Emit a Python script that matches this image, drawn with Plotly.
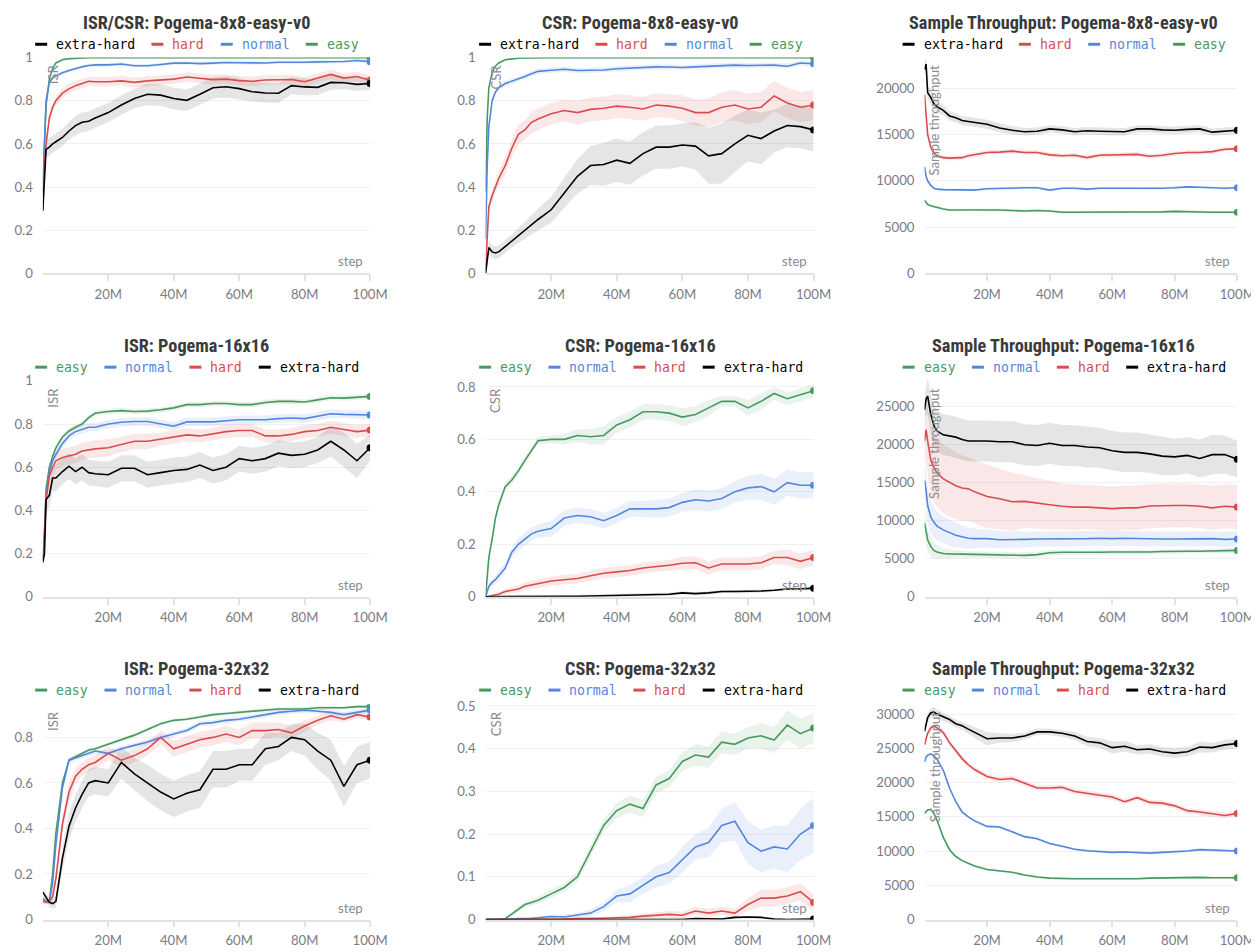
import numpy as np
import plotly.graph_objects as go

# ---------------- data ----------------
STEPS_M = [0, 0.5, 1, 2, 3, 4, 6, 8, 10, 12, 14, 16, 20, 24, 28, 32, 36, 40, 44, 48,
           52, 56, 60, 64, 68, 72, 76, 80, 84, 88, 92, 96, 100]
X_TICK_VALUES_M = [20, 40, 60, 80, 100]
X_TICK_LABELS = ["20M", "40M", "60M", "80M", "100M"]

# Row 1 col 1: ISR/CSR Pogema-8x8-easy-v0 (y = ISR)
R1C1_EASY = [0.42, 0.62, 0.78, 0.9, 0.95, 0.975, 0.99, 0.995, 0.997, 0.998, 0.999, 0.999, 0.999, 0.999, 0.999, 0.999, 0.999,
             0.999, 0.999, 0.999, 0.999, 0.999, 0.999, 0.999, 0.999, 0.999, 0.999, 0.999, 0.999, 0.999, 0.999, 0.999, 0.999]
R1C1_EASY_BAND = 0.003
R1C1_NORMAL = [0.38, 0.6, 0.8, 0.885, 0.905, 0.915, 0.93, 0.94, 0.95, 0.957, 0.963, 0.966, 0.966, 0.97, 0.962, 0.962, 0.968,
               0.974, 0.975, 0.972, 0.974, 0.977, 0.976, 0.975, 0.975, 0.978, 0.977, 0.978, 0.98, 0.98, 0.982, 0.986, 0.981]
R1C1_NORMAL_BAND = 0.008
R1C1_HARD = [0.37, 0.5, 0.6, 0.72, 0.77, 0.8, 0.835, 0.855, 0.87, 0.88, 0.89, 0.888, 0.888, 0.892, 0.885, 0.892, 0.895,
             0.9, 0.91, 0.903, 0.898, 0.9, 0.893, 0.89, 0.896, 0.897, 0.898, 0.888, 0.905, 0.922, 0.905, 0.912, 0.895]
R1C1_HARD_BAND = 0.022
R1C1_XHARD = [0.29, 0.45, 0.575, 0.585, 0.6, 0.61, 0.63, 0.66, 0.685, 0.7, 0.705, 0.72, 0.745, 0.78, 0.81, 0.83, 0.826,
              0.81, 0.802, 0.83, 0.86, 0.865, 0.856, 0.842, 0.836, 0.835, 0.87, 0.864, 0.862, 0.885, 0.883, 0.876, 0.88]
R1C1_XHARD_BAND = [0.03, 0.04, 0.04, 0.04, 0.04, 0.04, 0.04, 0.04, 0.045, 0.045, 0.045, 0.045, 0.045, 0.045, 0.045, 0.05, 0.05,
                   0.05, 0.05, 0.05, 0.05, 0.05, 0.05, 0.045, 0.045, 0.045, 0.04, 0.04, 0.035, 0.035, 0.03, 0.03, 0.03]

# Row 1 col 2: CSR Pogema-8x8-easy-v0
R1C2_EASY = [0.38, 0.72, 0.86, 0.93, 0.96, 0.975, 0.99, 0.995, 0.997, 0.998, 0.999, 0.999, 0.999, 0.999, 0.999, 0.999, 0.999,
             0.999, 0.999, 0.999, 0.999, 0.999, 0.999, 0.999, 0.999, 0.999, 0.999, 0.999, 0.999, 0.999, 0.999, 0.999, 0.999]
R1C2_EASY_BAND = 0.004
R1C2_NORMAL = [0.16, 0.5, 0.68, 0.8, 0.84, 0.86, 0.88, 0.89, 0.9, 0.912, 0.925, 0.936, 0.941, 0.946, 0.94, 0.94, 0.942,
               0.948, 0.951, 0.955, 0.957, 0.956, 0.954, 0.957, 0.96, 0.962, 0.965, 0.963, 0.963, 0.965, 0.96, 0.975, 0.971]
R1C2_NORMAL_BAND = 0.012
R1C2_HARD = [0.02, 0.2, 0.31, 0.36, 0.4, 0.44, 0.5, 0.58, 0.645, 0.665, 0.7, 0.715, 0.74, 0.755, 0.745, 0.76, 0.765,
             0.775, 0.77, 0.762, 0.78, 0.775, 0.765, 0.745, 0.745, 0.77, 0.78, 0.762, 0.77, 0.822, 0.79, 0.77, 0.78]
R1C2_HARD_BAND = [0.02, 0.03, 0.03, 0.03, 0.03, 0.035, 0.04, 0.04, 0.045, 0.045, 0.05, 0.05, 0.05, 0.05, 0.055, 0.055, 0.055,
                  0.055, 0.055, 0.055, 0.055, 0.055, 0.06, 0.06, 0.065, 0.07, 0.07, 0.07, 0.07, 0.07, 0.07, 0.07, 0.07]
R1C2_XHARD = [0.0, 0.05, 0.12, 0.1, 0.095, 0.1, 0.125, 0.15, 0.175, 0.2, 0.225, 0.25, 0.295, 0.37, 0.45, 0.5, 0.505,
              0.525, 0.51, 0.555, 0.585, 0.585, 0.595, 0.59, 0.545, 0.555, 0.6, 0.64, 0.625, 0.66, 0.685, 0.68, 0.665]
R1C2_XHARD_BAND = [0.01, 0.02, 0.03, 0.03, 0.03, 0.03, 0.03, 0.03, 0.035, 0.04, 0.045, 0.05, 0.06, 0.07, 0.08, 0.09, 0.1,
                   0.1, 0.1, 0.1, 0.1, 0.1, 0.1, 0.11, 0.13, 0.14, 0.13, 0.12, 0.12, 0.1, 0.1, 0.1, 0.1]

# Row 1 col 3: Sample Throughput Pogema-8x8-easy-v0
R1C3_EASY = [7900, 7600, 7450, 7300, 7200, 7100, 6950, 6850, 6850, 6850, 6880, 6900, 6850, 6850, 6800, 6750, 6800,
             6750, 6600, 6600, 6650, 6600, 6650, 6650, 6650, 6600, 6650, 6700, 6650, 6650, 6600, 6600, 6600]
R1C3_EASY_BAND = 150
R1C3_NORMAL = [11500, 10500, 10000, 9500, 9200, 9100, 9050, 9050, 9050, 9050, 9000, 9000, 9150, 9200, 9250, 9250, 9250,
               9000, 9200, 9200, 9100, 9200, 9200, 9200, 9200, 9150, 9200, 9250, 9350, 9300, 9250, 9200, 9250]
R1C3_NORMAL_BAND = 150
R1C3_HARD = [19300, 17000, 15000, 13600, 13000, 12700, 12500, 12450, 12450, 12500, 12700, 12800, 13050, 13100, 13200, 13050, 13050,
             12800, 12700, 12750, 12500, 12750, 12800, 12800, 12850, 12650, 12750, 12950, 13050, 13050, 13150, 13400, 13450]
R1C3_HARD_BAND = 250
R1C3_XHARD = [22000, 22600, 19500, 19000, 18300, 18000, 17600, 17000, 16800, 16500, 16400, 16300, 16100, 15700, 15450, 15300, 15350,
              15600, 15500, 15300, 15400, 15350, 15300, 15300, 15600, 15600, 15500, 15450, 15550, 15600, 15250, 15350, 15450]
R1C3_XHARD_BAND = [600, 700, 700, 700, 600, 600, 550, 500, 500, 500, 500, 500, 500, 500, 450, 400, 400,
                   400, 400, 400, 400, 400, 400, 400, 400, 400, 400, 400, 400, 400, 400, 400, 400]

# Row 2 col 1: ISR Pogema-16x16
R2C1_EASY = [0.18, 0.3, 0.5, 0.6, 0.65, 0.69, 0.74, 0.768, 0.785, 0.8, 0.83, 0.85, 0.858, 0.862, 0.858, 0.86, 0.866,
             0.875, 0.89, 0.89, 0.895, 0.895, 0.89, 0.89, 0.9, 0.905, 0.905, 0.902, 0.912, 0.922, 0.92, 0.925, 0.928]
R2C1_EASY_BAND = 0.012
R2C1_NORMAL = [0.17, 0.28, 0.47, 0.58, 0.63, 0.66, 0.71, 0.745, 0.765, 0.775, 0.785, 0.785, 0.8, 0.808, 0.812, 0.812, 0.8,
               0.79, 0.81, 0.81, 0.81, 0.815, 0.82, 0.82, 0.82, 0.825, 0.828, 0.825, 0.838, 0.848, 0.845, 0.845, 0.842]
R2C1_NORMAL_BAND = 0.02
R2C1_HARD = [0.17, 0.27, 0.45, 0.56, 0.6, 0.63, 0.645, 0.651, 0.66, 0.675, 0.68, 0.685, 0.69, 0.705, 0.72, 0.72, 0.73,
             0.74, 0.75, 0.745, 0.755, 0.765, 0.77, 0.77, 0.745, 0.745, 0.752, 0.765, 0.77, 0.785, 0.775, 0.765, 0.772]
R2C1_HARD_BAND = [0.02, 0.03, 0.04, 0.04, 0.04, 0.04, 0.04, 0.04, 0.04, 0.04, 0.04, 0.04, 0.04, 0.035, 0.035, 0.035, 0.03,
                  0.03, 0.03, 0.03, 0.03, 0.03, 0.03, 0.03, 0.03, 0.03, 0.03, 0.03, 0.03, 0.03, 0.03, 0.03, 0.03]
R2C1_XHARD = [0.16, 0.2, 0.45, 0.47, 0.55, 0.55, 0.58, 0.605, 0.58, 0.6, 0.575, 0.57, 0.565, 0.595, 0.595, 0.565, 0.575,
              0.585, 0.59, 0.61, 0.585, 0.6, 0.64, 0.63, 0.64, 0.665, 0.655, 0.66, 0.68, 0.72, 0.68, 0.63, 0.69]
R2C1_XHARD_BAND = [0.02, 0.04, 0.05, 0.06, 0.06, 0.06, 0.06, 0.06, 0.06, 0.06, 0.06, 0.06, 0.06, 0.06, 0.06, 0.06, 0.06,
                   0.06, 0.06, 0.06, 0.06, 0.06, 0.06, 0.06, 0.06, 0.06, 0.06, 0.06, 0.06, 0.07, 0.08, 0.08, 0.06]

# Row 2 col 2: CSR Pogema-16x16
R2C2_EASY = [0.0, 0.08, 0.15, 0.22, 0.3, 0.35, 0.42, 0.445, 0.48, 0.52, 0.56, 0.595, 0.6, 0.6, 0.615, 0.61, 0.615,
             0.655, 0.675, 0.705, 0.705, 0.7, 0.685, 0.695, 0.72, 0.745, 0.745, 0.72, 0.745, 0.775, 0.755, 0.77, 0.785]
R2C2_EASY_BAND = [0.0, 0.01, 0.015, 0.015, 0.015, 0.015, 0.015, 0.015, 0.015, 0.015, 0.015, 0.015, 0.015, 0.02, 0.025, 0.03, 0.035,
                  0.03, 0.03, 0.03, 0.03, 0.03, 0.035, 0.03, 0.03, 0.02, 0.02, 0.03, 0.03, 0.025, 0.025, 0.025, 0.025]
R2C2_NORMAL = [0.0, 0.02, 0.04, 0.055, 0.065, 0.08, 0.11, 0.17, 0.2, 0.22, 0.24, 0.25, 0.26, 0.3, 0.31, 0.305, 0.29,
               0.31, 0.335, 0.335, 0.335, 0.34, 0.36, 0.37, 0.365, 0.375, 0.4, 0.415, 0.42, 0.4, 0.435, 0.425, 0.425]
R2C2_NORMAL_BAND = [0.0, 0.01, 0.01, 0.015, 0.015, 0.02, 0.02, 0.02, 0.025, 0.025, 0.025, 0.025, 0.03, 0.03, 0.03, 0.03, 0.03,
                    0.03, 0.03, 0.03, 0.035, 0.035, 0.035, 0.04, 0.04, 0.04, 0.04, 0.045, 0.05, 0.05, 0.05, 0.05, 0.05]
R2C2_HARD = [0.0, 0.0, 0.002, 0.005, 0.007, 0.01, 0.02, 0.025, 0.03, 0.04, 0.045, 0.05, 0.06, 0.065, 0.07, 0.08, 0.09,
             0.095, 0.1, 0.11, 0.115, 0.12, 0.128, 0.13, 0.11, 0.125, 0.125, 0.125, 0.13, 0.15, 0.15, 0.135, 0.15]
R2C2_HARD_BAND = [0.0, 0.002, 0.003, 0.005, 0.006, 0.008, 0.01, 0.012, 0.014, 0.015, 0.015, 0.016, 0.017, 0.018, 0.018, 0.02, 0.02,
                  0.02, 0.02, 0.02, 0.02, 0.02, 0.025, 0.025, 0.025, 0.025, 0.025, 0.025, 0.025, 0.025, 0.03, 0.03, 0.03]
R2C2_XHARD = [0.0, 0.0, 0.0, 0.0, 0.0, 0.0, 0.0, 0.0, 0.0, 0.0, 0.0, 0.001, 0.001, 0.002, 0.002, 0.003, 0.004,
              0.005, 0.006, 0.007, 0.008, 0.01, 0.015, 0.012, 0.015, 0.02, 0.02, 0.02, 0.022, 0.025, 0.03, 0.03, 0.033]
R2C2_XHARD_BAND = 0.006

# Row 2 col 3: Sample Throughput Pogema-16x16
R2C3_EASY = [9700, 8500, 7500, 6600, 6100, 5900, 5700, 5650, 5650, 5620, 5600, 5580, 5550, 5500, 5480, 5450, 5550,
             5800, 5850, 5820, 5800, 5850, 5900, 5870, 5850, 5900, 5950, 6000, 6000, 6000, 6030, 6050, 6100]
R2C3_EASY_BAND = [1800, 1700, 1500, 1300, 1100, 900, 700, 600, 500, 450, 400, 400, 400, 400, 400, 400, 400,
                  350, 350, 300, 300, 300, 300, 300, 300, 300, 300, 300, 300, 300, 300, 300, 300]
R2C3_NORMAL = [15300, 14000, 12000, 10500, 9800, 9300, 8800, 8400, 8100, 7900, 7700, 7650, 7650, 7500, 7500, 7550, 7600,
               7600, 7600, 7600, 7650, 7700, 7650, 7700, 7650, 7650, 7600, 7600, 7600, 7600, 7650, 7550, 7600]
R2C3_NORMAL_BAND = [2500, 2500, 2300, 2100, 2000, 1900, 1800, 1700, 1600, 1500, 1400, 1300, 1200, 1150, 1100, 1050, 1000,
                    1000, 1000, 1000, 1000, 1000, 1000, 1000, 1000, 1000, 1000, 1000, 1000, 1000, 1000, 1000, 1000]
R2C3_HARD = [20500, 22000, 20500, 18000, 17000, 16300, 15500, 15000, 14600, 14300, 14200, 13800, 13200, 12900, 12500, 12550, 12300,
             12100, 11900, 11800, 11800, 11700, 11600, 11700, 11700, 11950, 12000, 12000, 12000, 11900, 11700, 11900, 11800]
R2C3_HARD_BAND = [3500, 4000, 4500, 4500, 4500, 4500, 4500, 4500, 4400, 4300, 4200, 4200, 4200, 4000, 3800, 3500, 3300,
                  3200, 3000, 3000, 2900, 2900, 2900, 2900, 2900, 2900, 2900, 2900, 2900, 2900, 2900, 2900, 2900]
R2C3_XHARD = [24600, 26000, 26400, 24000, 22500, 21800, 21300, 21200, 21000, 20700, 20500, 20500, 20500, 20400, 20400, 20000, 19900,
              20200, 19900, 19900, 19700, 19600, 19200, 19000, 19000, 18800, 18500, 18400, 18600, 18200, 18700, 18700, 18100]
R2C3_XHARD_BAND = [1500, 2000, 2500, 2700, 2700, 2700, 2700, 2700, 2700, 2700, 2700, 2700, 2700, 2700, 2700, 2700, 2700,
                   2700, 2700, 2700, 2700, 2600, 2600, 2600, 2600, 2500, 2500, 2400, 2400, 2500, 2600, 2500, 2400]

# Row 3 col 1: ISR Pogema-32x32
R3C1_EASY = [0.09, 0.085, 0.08, 0.08, 0.2, 0.38, 0.6, 0.7, 0.715, 0.73, 0.745, 0.75, 0.77, 0.79, 0.81, 0.835, 0.86,
             0.875, 0.88, 0.89, 0.9, 0.905, 0.91, 0.915, 0.92, 0.925, 0.925, 0.925, 0.93, 0.93, 0.93, 0.935, 0.935]
R3C1_EASY_BAND = 0.008
R3C1_NORMAL = [0.09, 0.085, 0.08, 0.08, 0.16, 0.33, 0.58, 0.7, 0.71, 0.72, 0.73, 0.74, 0.73, 0.75, 0.765, 0.78, 0.8,
               0.815, 0.83, 0.86, 0.865, 0.875, 0.88, 0.89, 0.9, 0.91, 0.915, 0.92, 0.915, 0.91, 0.9, 0.91, 0.92]
R3C1_NORMAL_BAND = 0.012
R3C1_HARD = [0.08, 0.078, 0.075, 0.08, 0.1, 0.18, 0.42, 0.56, 0.63, 0.66, 0.68, 0.69, 0.73, 0.7, 0.72, 0.75, 0.8,
             0.75, 0.77, 0.79, 0.8, 0.815, 0.8, 0.83, 0.83, 0.835, 0.82, 0.85, 0.875, 0.895, 0.88, 0.9, 0.89]
R3C1_HARD_BAND = [0.01, 0.01, 0.01, 0.01, 0.02, 0.03, 0.04, 0.04, 0.035, 0.03, 0.03, 0.03, 0.03, 0.03, 0.03, 0.03, 0.03,
                  0.035, 0.035, 0.035, 0.035, 0.035, 0.035, 0.035, 0.035, 0.03, 0.03, 0.025, 0.02, 0.02, 0.015, 0.015, 0.015]
R3C1_XHARD = [0.12, 0.11, 0.1, 0.075, 0.07, 0.08, 0.27, 0.41, 0.49, 0.55, 0.6, 0.61, 0.6, 0.69, 0.64, 0.6, 0.56,
              0.53, 0.555, 0.57, 0.66, 0.66, 0.68, 0.68, 0.75, 0.76, 0.8, 0.79, 0.74, 0.7, 0.585, 0.68, 0.7]
R3C1_XHARD_BAND = [0.02, 0.02, 0.02, 0.02, 0.02, 0.03, 0.05, 0.06, 0.06, 0.06, 0.06, 0.06, 0.06, 0.07, 0.07, 0.08, 0.08,
                   0.08, 0.08, 0.08, 0.08, 0.08, 0.07, 0.07, 0.07, 0.06, 0.06, 0.07, 0.08, 0.09, 0.09, 0.08, 0.08]

# Row 3 col 2: CSR Pogema-32x32
R3C2_EASY = [0, 0, 0, 0, 0, 0, 0.002, 0.013, 0.025, 0.035, 0.04, 0.045, 0.06, 0.075, 0.1, 0.16, 0.22,
             0.255, 0.27, 0.26, 0.315, 0.33, 0.37, 0.385, 0.38, 0.415, 0.41, 0.425, 0.43, 0.42, 0.455, 0.435, 0.448]
R3C2_EASY_BAND = [0, 0, 0, 0, 0, 0, 0.002, 0.005, 0.006, 0.007, 0.008, 0.008, 0.01, 0.01, 0.012, 0.015, 0.015,
                  0.018, 0.02, 0.02, 0.02, 0.02, 0.022, 0.025, 0.025, 0.025, 0.025, 0.025, 0.03, 0.03, 0.035, 0.035, 0.035]
R3C2_NORMAL = [0, 0, 0, 0, 0, 0, 0, 0.001, 0.002, 0.002, 0.003, 0.004, 0.007, 0.006, 0.01, 0.015, 0.03,
               0.055, 0.06, 0.08, 0.1, 0.11, 0.14, 0.17, 0.18, 0.22, 0.23, 0.18, 0.16, 0.17, 0.165, 0.2, 0.22]
R3C2_NORMAL_BAND = [0, 0, 0, 0, 0, 0, 0, 0.001, 0.002, 0.002, 0.003, 0.003, 0.004, 0.005, 0.006, 0.008, 0.01,
                    0.015, 0.02, 0.02, 0.025, 0.025, 0.03, 0.03, 0.035, 0.04, 0.045, 0.05, 0.05, 0.05, 0.055, 0.06, 0.065]
R3C2_HARD = [0, 0, 0, 0, 0, 0, 0, 0, 0, 0, 0, 0, 0.001, 0.001, 0.002, 0.002, 0.003,
             0.004, 0.005, 0.008, 0.01, 0.012, 0.01, 0.02, 0.015, 0.02, 0.015, 0.035, 0.05, 0.05, 0.055, 0.065, 0.04]
R3C2_HARD_BAND = [0, 0, 0, 0, 0, 0, 0, 0, 0, 0, 0, 0, 0.001, 0.001, 0.002, 0.002, 0.003,
                  0.004, 0.005, 0.006, 0.007, 0.008, 0.008, 0.01, 0.01, 0.01, 0.01, 0.015, 0.02, 0.02, 0.02, 0.02, 0.02]
R3C2_XHARD = [0, 0, 0, 0, 0, 0, 0, 0, 0, 0, 0, 0, 0, 0, 0, 0, 0,
              0, 0, 0, 0, 0, 0, 0.002, 0.001, 0.001, 0.005, 0.006, 0.005, 0.001, 0.0, 0.0, 0.001]
R3C2_XHARD_BAND = 0.003

# Row 3 col 3: Sample Throughput Pogema-32x32
R3C3_EASY = [15500, 15800, 16000, 16100, 15500, 14500, 12000, 10200, 9200, 8600, 8200, 7800, 7300, 7100, 6900, 6500, 6200,
             6050, 5950, 5950, 5950, 5950, 5900, 5950, 5950, 6050, 6100, 6050, 6100, 6150, 6100, 6100, 6100]
R3C3_EASY_BAND = 150
R3C3_NORMAL = [23000, 23700, 24000, 24200, 23900, 23400, 21800, 19200, 17200, 15700, 15000, 14400, 13600, 13500, 12800, 12100, 11800,
               11100, 10700, 10250, 10050, 9950, 9800, 9850, 9800, 9700, 9800, 9850, 10000, 10200, 10100, 10000, 10000]
R3C3_NORMAL_BAND = 200
R3C3_HARD = [25500, 26500, 27200, 28000, 28300, 28000, 27300, 25800, 24600, 23500, 22600, 21900, 20900, 20450, 20600, 19900, 19200,
             19200, 19300, 18700, 18400, 18200, 17900, 17200, 17800, 17100, 17000, 16600, 15900, 15700, 15400, 15200, 15500]
R3C3_HARD_BAND = 400
R3C3_XHARD = [27500, 28800, 29500, 30200, 30300, 30000, 29600, 29200, 28600, 28300, 27800, 27300, 26400, 26500, 26500, 26800, 27400,
              27400, 27200, 26800, 26000, 25800, 25100, 25300, 24800, 24900, 24500, 24300, 24500, 25200, 25100, 25500, 25700]
R3C3_XHARD_BAND = [400, 500, 600, 700, 700, 700, 600, 600, 600, 600, 700, 800, 1000, 700, 600, 500, 500,
                   500, 500, 600, 700, 700, 900, 800, 700, 700, 700, 700, 700, 800, 700, 700, 700]

TITLES = [
    ["ISR/CSR: Pogema-8x8-easy-v0", "CSR: Pogema-8x8-easy-v0", "Sample Throughput: Pogema-8x8-easy-v0"],
    ["ISR: Pogema-16x16", "CSR: Pogema-16x16", "Sample Throughput: Pogema-16x16"],
    ["ISR: Pogema-32x32", "CSR: Pogema-32x32", "Sample Throughput: Pogema-32x32"],
]
Y_TITLES = ["ISR", "CSR", "Sample throughput"]
LEGEND_ORDER = [
    ["extra-hard", "hard", "normal", "easy"],
    ["easy", "normal", "hard", "extra-hard"],
    ["easy", "normal", "hard", "extra-hard"],
]
PANEL_DATA = {
    (0, 0): {"easy": (R1C1_EASY, R1C1_EASY_BAND), "normal": (R1C1_NORMAL, R1C1_NORMAL_BAND),
             "hard": (R1C1_HARD, R1C1_HARD_BAND), "extra-hard": (R1C1_XHARD, R1C1_XHARD_BAND)},
    (0, 1): {"easy": (R1C2_EASY, R1C2_EASY_BAND), "normal": (R1C2_NORMAL, R1C2_NORMAL_BAND),
             "hard": (R1C2_HARD, R1C2_HARD_BAND), "extra-hard": (R1C2_XHARD, R1C2_XHARD_BAND)},
    (0, 2): {"easy": (R1C3_EASY, R1C3_EASY_BAND), "normal": (R1C3_NORMAL, R1C3_NORMAL_BAND),
             "hard": (R1C3_HARD, R1C3_HARD_BAND), "extra-hard": (R1C3_XHARD, R1C3_XHARD_BAND)},
    (1, 0): {"easy": (R2C1_EASY, R2C1_EASY_BAND), "normal": (R2C1_NORMAL, R2C1_NORMAL_BAND),
             "hard": (R2C1_HARD, R2C1_HARD_BAND), "extra-hard": (R2C1_XHARD, R2C1_XHARD_BAND)},
    (1, 1): {"easy": (R2C2_EASY, R2C2_EASY_BAND), "normal": (R2C2_NORMAL, R2C2_NORMAL_BAND),
             "hard": (R2C2_HARD, R2C2_HARD_BAND), "extra-hard": (R2C2_XHARD, R2C2_XHARD_BAND)},
    (1, 2): {"easy": (R2C3_EASY, R2C3_EASY_BAND), "normal": (R2C3_NORMAL, R2C3_NORMAL_BAND),
             "hard": (R2C3_HARD, R2C3_HARD_BAND), "extra-hard": (R2C3_XHARD, R2C3_XHARD_BAND)},
    (2, 0): {"easy": (R3C1_EASY, R3C1_EASY_BAND), "normal": (R3C1_NORMAL, R3C1_NORMAL_BAND),
             "hard": (R3C1_HARD, R3C1_HARD_BAND), "extra-hard": (R3C1_XHARD, R3C1_XHARD_BAND)},
    (2, 1): {"easy": (R3C2_EASY, R3C2_EASY_BAND), "normal": (R3C2_NORMAL, R3C2_NORMAL_BAND),
             "hard": (R3C2_HARD, R3C2_HARD_BAND), "extra-hard": (R3C2_XHARD, R3C2_XHARD_BAND)},
    (2, 2): {"easy": (R3C3_EASY, R3C3_EASY_BAND), "normal": (R3C3_NORMAL, R3C3_NORMAL_BAND),
             "hard": (R3C3_HARD, R3C3_HARD_BAND), "extra-hard": (R3C3_XHARD, R3C3_XHARD_BAND)},
}

# ---------------- style / layout ----------------
# Placements below are given in pixels of the final photographed image; they are mapped to
# figure pixels with the page offset (8px body margin) and the photo scale observed earlier.
PHOTO_W, PHOTO_H = 1259, 952
SX, SY = 1259 / 1277, 952 / 968
BODY_MARGIN = 8
TOP_EXTRA = 8
FIG_W = round(PHOTO_W / SX - BODY_MARGIN)
FIG_H = round(PHOTO_H / SY - BODY_MARGIN - TOP_EXTRA)
FS = 1 / SX
COLORS = {"easy": (71, 154, 95), "normal": (83, 135, 221), "hard": (218, 76, 76), "extra-hard": (0, 0, 0)}
BAND_ALPHA = {"easy": 0.12, "normal": 0.12, "hard": 0.13, "extra-hard": 0.10}
COL_PX = [(42.7, 370.0), (485.5, 813.5), (924.5, 1237.3)]
ROW_PX = [(57.3, 273.3), (380.7, 596.7), (704.1, 919.5)]
Y_RANGES = [[(0, 1.0), (0, 1.0), (0, 23300)],
            [(0, 1.0), (0, 0.823), (0, 28400)],
            [(0, 0.946), (0, 0.504), (0, 31450)]]
Y_DTICK = [[0.2, 0.2, 5000], [0.2, 0.2, 5000], [0.2, 0.1, 5000]]
TITLE_CX = [[196, 640, 1063.5], [196, 640, 1063.5], [196, 640, 1063.5]]
TITLE_Y = [22, 345, 668]
LEGEND_Y = [44, 367, 690]
SANS = "Lato, 'Open Sans', sans-serif"
TICK_FONT = dict(family=SANS, size=13 * FS, color="#7b7b85")
TITLE_FONT = dict(family="'Roboto Condensed', Roboto, sans-serif", size=18 * FS, color="#3a3a3a")
MONO = "'DejaVu Sans Mono', 'Liberation Mono', monospace"
CHAR_W = 7.83


def px_x(p):
    return (p / SX - BODY_MARGIN) / FIG_W


def px_y(p):
    return 1 - (p / SY - BODY_MARGIN - TOP_EXTRA) / FIG_H


def rgba(c, a):
    return f"rgba({c[0]},{c[1]},{c[2]},{a})"


fig = go.Figure()
xs = np.array(STEPS_M) * 1e6
annotations = []
shapes = []

for r in range(3):
    for c in range(3):
        k = r * 3 + c + 1
        xa = "x" if k == 1 else f"x{k}"
        ya = "y" if k == 1 else f"y{k}"
        data = PANEL_DATA[(r, c)]
        order = ["easy", "normal", "hard", "extra-hard"]
        for name in order:
            vals, band = data[name]
            vals = np.array(vals, dtype=float)
            band = np.broadcast_to(np.array(band, dtype=float), vals.shape)
            upper = vals + band
            lower = vals - band
            fig.add_trace(go.Scatter(
                x=np.concatenate([xs, xs[::-1]]), y=np.concatenate([upper, lower[::-1]]),
                fill="toself", fillcolor=rgba(COLORS[name], BAND_ALPHA[name]),
                line=dict(width=0), mode="lines", hoverinfo="skip", showlegend=False,
                xaxis=xa, yaxis=ya))
        for name in order:
            vals, _ = data[name]
            fig.add_trace(go.Scatter(
                x=xs, y=vals, mode="lines", line=dict(color=rgba(COLORS[name], 1), width=1.6),
                showlegend=False, name=name, xaxis=xa, yaxis=ya))
            fig.add_trace(go.Scatter(
                x=[xs[-1]], y=[vals[-1]], mode="markers",
                marker=dict(color=rgba(COLORS[name], 1), size=7),
                showlegend=False, hoverinfo="skip", xaxis=xa, yaxis=ya))

        x0, x1 = COL_PX[c]
        y0, y1 = ROW_PX[r]
        xkey = "xaxis" if k == 1 else f"xaxis{k}"
        ykey = "yaxis" if k == 1 else f"yaxis{k}"
        fig.update_layout(**{
            xkey: dict(domain=[px_x(x0), px_x(x1)], anchor=ya, range=[0, 100e6],
                       tickvals=[v * 1e6 for v in X_TICK_VALUES_M], ticktext=X_TICK_LABELS,
                       showgrid=False, zeroline=False, showline=True, linecolor="#e2e2e2", linewidth=1.5,
                       ticks="outside", ticklen=6, tickcolor="#e2e2e2", tickwidth=1.5,
                       tickfont=TICK_FONT, ticklabelstandoff=2, fixedrange=True),
            ykey: dict(domain=[px_y(y1), px_y(y0)], anchor=xa, range=list(Y_RANGES[r][c]),
                       dtick=Y_DTICK[r][c], tick0=0, tickformat="~r" if c < 2 else "d",
                       showgrid=True, gridcolor="#f0f0f0", gridwidth=1, zeroline=False,
                       showline=False, ticks="", tickfont=TICK_FONT, ticklabelstandoff=9,
                       fixedrange=True),
        })
        annotations.append(dict(text=f"<b>{TITLES[r][c]}</b>", x=px_x(TITLE_CX[r][c]), y=px_y(TITLE_Y[r]),
                                xref="paper", yref="paper", xanchor="center", yanchor="middle",
                                showarrow=False, font=TITLE_FONT))
        annotations.append(dict(text=Y_TITLES[c], x=px_x(x0 + 10), y=px_y(y0 + 5),
                                xref="paper", yref="paper", xanchor="center", yanchor="top",
                                textangle=-90, showarrow=False,
                                font=dict(family=SANS, size=13 * FS, color="#8a8a92")))
        annotations.append(dict(text="step", x=px_x(x1 - 5), y=px_y(y1 - 2),
                                xref="paper", yref="paper", xanchor="right", yanchor="bottom",
                                showarrow=False, font=dict(family=SANS, size=13 * FS, color="#8a8a92")))
        items = LEGEND_ORDER[r]
        total = sum(12 + 8 + len(n) * CHAR_W for n in items) + 18 * (len(items) - 1)
        cur = TITLE_CX[r][c] - total / 2
        ly = LEGEND_Y[r]
        for n in items:
            shapes.append(dict(type="line", xref="paper", yref="paper",
                               x0=px_x(cur), x1=px_x(cur + 12), y0=px_y(ly), y1=px_y(ly),
                               line=dict(color=rgba(COLORS[n], 1), width=3)))
            annotations.append(dict(text=n, x=px_x(cur + 20), y=px_y(ly), xref="paper", yref="paper",
                                    xanchor="left", yanchor="middle", showarrow=False, borderpad=0,
                                    font=dict(family=MONO, size=13 * FS, color=rgba(COLORS[n], 1))))
            cur += 12 + 8 + len(n) * CHAR_W + 18

fig.update_layout(width=FIG_W, height=FIG_H, margin=dict(l=0, r=0, t=0, b=0),
                  paper_bgcolor="white", plot_bgcolor="white", showlegend=False,
                  annotations=annotations, shapes=shapes)
fig.write_html("out.html", config={"displayModeBar": False})
